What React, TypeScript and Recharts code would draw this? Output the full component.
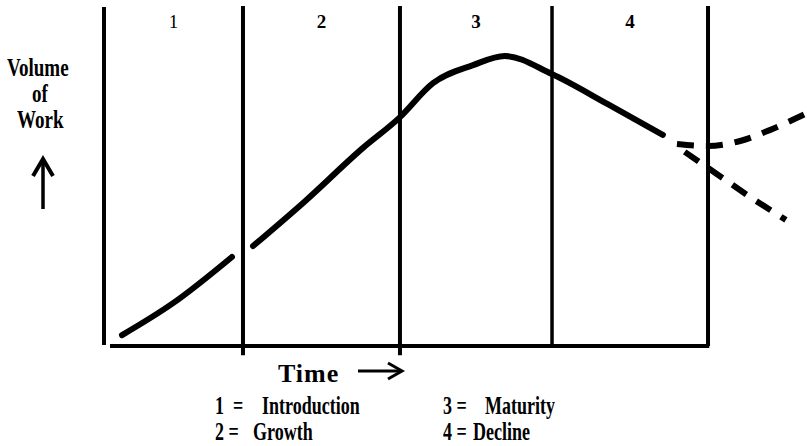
import { LineChart, Line, XAxis, YAxis, ReferenceLine, ReferenceArea } from 'recharts';

// time runs 0..100 across the plot, volume 0..100 bottom to top
const stageBounds = [0, 19.77, 42.1, 63.73, 85.92];
const stageLabels = ['1', '2', '3', '4'];
const stageNames = ['Introduction', 'Growth', 'Maturity', 'Decline'];

const mainCurve = [
  { t: 2.56, v: 3.2 },
  { t: 9.82, v: 12.6 },
  { t: 18.2, v: 26.2 },
  { t: 19.7, v: null },
  { t: 21.2, v: 29.4 },
  { t: 28.6, v: 42.6 },
  { t: 36.8, v: 58.2 },
  { t: 42.0, v: 67.1 },
  { t: 46.8, v: 77.3 },
  { t: 52.5, v: 82.6 },
  { t: 57.0, v: 85.3 },
  { t: 63.7, v: 80.0 },
  { t: 71.6, v: 71.2 },
  { t: 79.5, v: 62.1 },
];

const risingBranch = [
  { t: 81.5, v: 59.4 },
  { t: 85.9, v: 58.8 },
  { t: 90.5, v: 60.3 },
  { t: 94.7, v: 63.5 },
  { t: 100, v: 68.5 },
];

const fallingBranch = [
  { t: 82.6, v: 57.1 },
  { t: 85.9, v: 52.4 },
  { t: 91.9, v: 43.8 },
  { t: 97.0, v: 37.1 },
];

const SERIF = '"Liberation Serif", "Times New Roman", serif';

const txt = (left: number, cy: number, size: number, extra: any = {}) => ({
  position: 'absolute' as const,
  left,
  top: cy - size / 2,
  fontSize: size,
  lineHeight: `${size}px`,
  whiteSpace: 'pre' as const,
  transform: 'scaleY(1.35)',
  transformOrigin: 'center center',
  ...extra,
});

const stageLabel = (s: string, i: number) => (props: any) => {
  const vb = props.viewBox || {};
  return (
    <text x={vb.x + vb.width / 2} y={vb.y + 22} textAnchor="middle" fill="#000"
      fontSize={19} fontFamily={SERIF} fontWeight={i === 0 ? 'normal' : 'bold'}>
      {s}
    </text>
  );
};

export default function App() {
  return (
    <div style={{ position: 'absolute', left: 0, top: 0, width: 807, height: 446, background: '#fff',
      fontFamily: SERIF, fontWeight: 'bold', color: '#000' }}>
      <LineChart width={807} height={446} margin={{ top: 6, right: 0, left: 104, bottom: 100 }}>
        <XAxis type="number" dataKey="t" domain={[0, 100]} hide allowDataOverflow />
        <YAxis type="number" domain={[0, 100]} hide allowDataOverflow />
        {stageLabels.map((s, i) => (
          <ReferenceArea key={s} x1={stageBounds[i]} x2={stageBounds[i + 1]} y1={0} y2={100}
            fill="none" stroke="none" label={stageLabel(s, i)} />
        ))}
        <ReferenceLine segment={[{ x: 0, y: 0.3 }, { x: 0, y: 99.7 }]} stroke="#000" strokeWidth={4} ifOverflow="visible" />
        <ReferenceLine segment={[{ x: 0.85, y: 0 }, { x: 86.1, y: 0 }]} stroke="#000" strokeWidth={4} ifOverflow="visible" />
        {stageBounds.slice(1).map((b, i) => (
          <ReferenceLine key={b} segment={[{ x: b, y: i < 2 ? -2.7 : 0 }, { x: b, y: 100 }]}
            stroke="#000" strokeWidth={i === 2 ? 3.5 : 4} ifOverflow="visible" />
        ))}
        <Line data={mainCurve} dataKey="v" type="monotone" stroke="#000" strokeWidth={6}
          strokeLinecap="round" dot={false} connectNulls={false} isAnimationActive={false} />
        <Line data={risingBranch} dataKey="v" type="monotone" stroke="#000" strokeWidth={6}
          strokeDasharray="17 12" dot={false} isAnimationActive={false} />
        <Line data={fallingBranch} dataKey="v" type="linear" stroke="#000" strokeWidth={6}
          strokeDasharray="17 12" dot={false} isAnimationActive={false} />
      </LineChart>

      <div style={txt(7, 67, 19)}>Volume</div>
      <div style={txt(32, 93, 19)}>of</div>
      <div style={txt(17, 119, 19)}>Work</div>
      <svg style={{ position: 'absolute', left: 30, top: 155 }} width={26} height={56}>
        <line x1={13} y1={4} x2={13} y2={54} stroke="#000" strokeWidth={3.5} />
        <polyline points="3,21 13,4 23,21" fill="none" stroke="#000" strokeWidth={4} />
      </svg>

      <div style={txt(278, 374, 26, { letterSpacing: 1, transform: 'none' })}>Time</div>
      <svg style={{ position: 'absolute', left: 356, top: 360 }} width={50} height={24}>
        <line x1={2} y1={11} x2={46} y2={11} stroke="#000" strokeWidth={3} />
        <polyline points="32,3 46,11 32,19" fill="none" stroke="#000" strokeWidth={3} />
      </svg>

      <div style={txt(215, 406, 18)}>1  =</div>
      <div style={txt(262, 406, 18)}>{stageNames[0]}</div>
      <div style={txt(215, 432, 18)}>2 =</div>
      <div style={txt(253, 432, 18)}>{stageNames[1]}</div>
      <div style={txt(443, 406, 18)}>3 =</div>
      <div style={txt(485, 406, 18)}>{stageNames[2]}</div>
      <div style={txt(443, 432, 18)}>4 =</div>
      <div style={txt(473, 432, 18)}>{stageNames[3]}</div>
    </div>
  );
}
